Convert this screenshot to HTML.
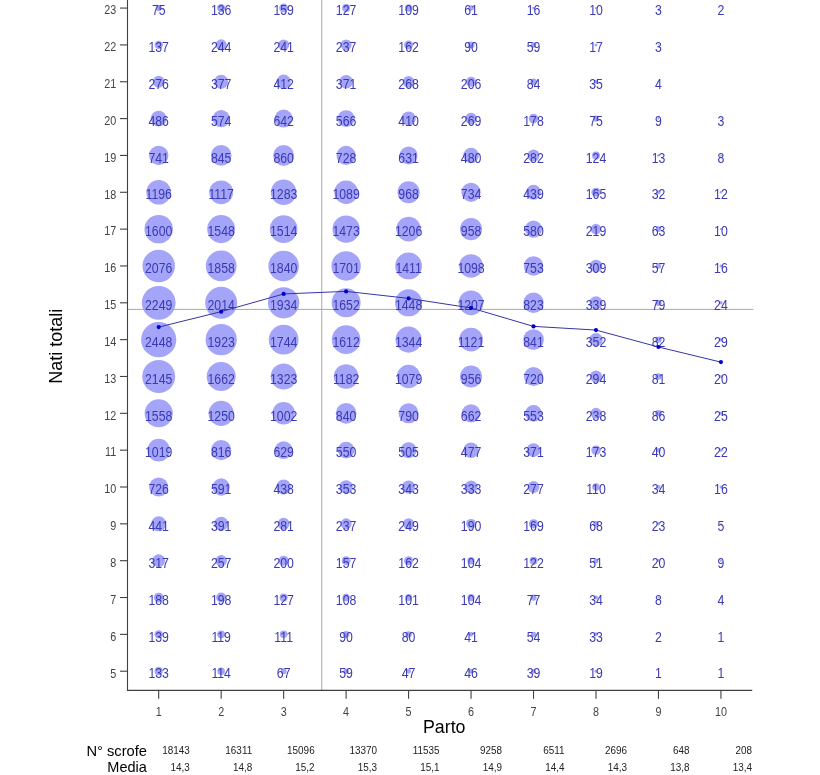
<!DOCTYPE html>
<html><head><meta charset="utf-8"><style>
html,body{margin:0;padding:0;background:#fff;}
body{width:820px;height:775px;overflow:hidden;position:relative;}
svg{position:absolute;left:0;top:0;will-change:transform;}
text{font-family:"Liberation Sans",sans-serif;}
</style></head><body>
<svg width="820" height="775" viewBox="0 0 820 775">

<g fill="#a4a4f9">
<circle cx="158.70" cy="8.08" r="3.08"/>
<circle cx="221.17" cy="8.08" r="4.15"/>
<circle cx="283.64" cy="8.08" r="4.49"/>
<circle cx="346.11" cy="8.08" r="4.01"/>
<circle cx="408.58" cy="8.08" r="3.72"/>
<circle cx="471.05" cy="8.08" r="2.78"/>
<circle cx="533.52" cy="8.08" r="1.42"/>
<circle cx="595.99" cy="8.08" r="1.13"/>
<circle cx="658.46" cy="8.08" r="0.62"/>
<circle cx="720.93" cy="8.08" r="0.50"/>
<circle cx="158.70" cy="44.92" r="4.17"/>
<circle cx="221.17" cy="44.92" r="5.56"/>
<circle cx="283.64" cy="44.92" r="5.53"/>
<circle cx="346.11" cy="44.92" r="5.48"/>
<circle cx="408.58" cy="44.92" r="4.53"/>
<circle cx="471.05" cy="44.92" r="3.38"/>
<circle cx="533.52" cy="44.92" r="2.73"/>
<circle cx="595.99" cy="44.92" r="1.47"/>
<circle cx="658.46" cy="44.92" r="0.62"/>
<circle cx="158.70" cy="81.76" r="5.91"/>
<circle cx="221.17" cy="81.76" r="6.91"/>
<circle cx="283.64" cy="81.76" r="7.23"/>
<circle cx="346.11" cy="81.76" r="6.86"/>
<circle cx="408.58" cy="81.76" r="5.83"/>
<circle cx="471.05" cy="81.76" r="5.11"/>
<circle cx="533.52" cy="81.76" r="3.26"/>
<circle cx="595.99" cy="81.76" r="2.11"/>
<circle cx="658.46" cy="81.76" r="0.71"/>
<circle cx="158.70" cy="118.60" r="7.85"/>
<circle cx="221.17" cy="118.60" r="8.53"/>
<circle cx="283.64" cy="118.60" r="9.02"/>
<circle cx="346.11" cy="118.60" r="8.47"/>
<circle cx="408.58" cy="118.60" r="7.21"/>
<circle cx="471.05" cy="118.60" r="5.84"/>
<circle cx="533.52" cy="118.60" r="4.75"/>
<circle cx="595.99" cy="118.60" r="3.08"/>
<circle cx="658.46" cy="118.60" r="1.07"/>
<circle cx="720.93" cy="118.60" r="0.62"/>
<circle cx="158.70" cy="155.44" r="9.69"/>
<circle cx="221.17" cy="155.44" r="10.35"/>
<circle cx="283.64" cy="155.44" r="10.44"/>
<circle cx="346.11" cy="155.44" r="9.61"/>
<circle cx="408.58" cy="155.44" r="8.94"/>
<circle cx="471.05" cy="155.44" r="7.80"/>
<circle cx="533.52" cy="155.44" r="5.98"/>
<circle cx="595.99" cy="155.44" r="3.96"/>
<circle cx="658.46" cy="155.44" r="1.28"/>
<circle cx="720.93" cy="155.44" r="1.01"/>
<circle cx="158.70" cy="192.28" r="12.31"/>
<circle cx="221.17" cy="192.28" r="11.90"/>
<circle cx="283.64" cy="192.28" r="12.75"/>
<circle cx="346.11" cy="192.28" r="11.75"/>
<circle cx="408.58" cy="192.28" r="11.08"/>
<circle cx="471.05" cy="192.28" r="9.64"/>
<circle cx="533.52" cy="192.28" r="7.46"/>
<circle cx="595.99" cy="192.28" r="4.57"/>
<circle cx="658.46" cy="192.28" r="2.01"/>
<circle cx="720.93" cy="192.28" r="1.23"/>
<circle cx="158.70" cy="229.12" r="14.24"/>
<circle cx="221.17" cy="229.12" r="14.01"/>
<circle cx="283.64" cy="229.12" r="13.85"/>
<circle cx="346.11" cy="229.12" r="13.66"/>
<circle cx="408.58" cy="229.12" r="12.36"/>
<circle cx="471.05" cy="229.12" r="11.02"/>
<circle cx="533.52" cy="229.12" r="8.57"/>
<circle cx="595.99" cy="229.12" r="5.27"/>
<circle cx="658.46" cy="229.12" r="2.83"/>
<circle cx="720.93" cy="229.12" r="1.13"/>
<circle cx="158.70" cy="265.96" r="16.22"/>
<circle cx="221.17" cy="265.96" r="15.35"/>
<circle cx="283.64" cy="265.96" r="15.27"/>
<circle cx="346.11" cy="265.96" r="14.68"/>
<circle cx="408.58" cy="265.96" r="13.37"/>
<circle cx="471.05" cy="265.96" r="11.80"/>
<circle cx="533.52" cy="265.96" r="9.77"/>
<circle cx="595.99" cy="265.96" r="6.26"/>
<circle cx="658.46" cy="265.96" r="2.69"/>
<circle cx="720.93" cy="265.96" r="1.42"/>
<circle cx="158.70" cy="302.80" r="16.88"/>
<circle cx="221.17" cy="302.80" r="15.98"/>
<circle cx="283.64" cy="302.80" r="15.66"/>
<circle cx="346.11" cy="302.80" r="14.47"/>
<circle cx="408.58" cy="302.80" r="13.55"/>
<circle cx="471.05" cy="302.80" r="12.37"/>
<circle cx="533.52" cy="302.80" r="10.21"/>
<circle cx="595.99" cy="302.80" r="6.55"/>
<circle cx="658.46" cy="302.80" r="3.16"/>
<circle cx="720.93" cy="302.80" r="1.74"/>
<circle cx="158.70" cy="339.64" r="17.61"/>
<circle cx="221.17" cy="339.64" r="15.61"/>
<circle cx="283.64" cy="339.64" r="14.87"/>
<circle cx="346.11" cy="339.64" r="14.29"/>
<circle cx="408.58" cy="339.64" r="13.05"/>
<circle cx="471.05" cy="339.64" r="11.92"/>
<circle cx="533.52" cy="339.64" r="10.32"/>
<circle cx="595.99" cy="339.64" r="6.68"/>
<circle cx="658.46" cy="339.64" r="3.22"/>
<circle cx="720.93" cy="339.64" r="1.92"/>
<circle cx="158.70" cy="376.48" r="16.49"/>
<circle cx="221.17" cy="376.48" r="14.51"/>
<circle cx="283.64" cy="376.48" r="12.95"/>
<circle cx="346.11" cy="376.48" r="12.24"/>
<circle cx="408.58" cy="376.48" r="11.69"/>
<circle cx="471.05" cy="376.48" r="11.01"/>
<circle cx="533.52" cy="376.48" r="9.55"/>
<circle cx="595.99" cy="376.48" r="6.10"/>
<circle cx="658.46" cy="376.48" r="3.20"/>
<circle cx="720.93" cy="376.48" r="1.59"/>
<circle cx="158.70" cy="413.32" r="14.05"/>
<circle cx="221.17" cy="413.32" r="12.59"/>
<circle cx="283.64" cy="413.32" r="11.27"/>
<circle cx="346.11" cy="413.32" r="10.32"/>
<circle cx="408.58" cy="413.32" r="10.01"/>
<circle cx="471.05" cy="413.32" r="9.16"/>
<circle cx="533.52" cy="413.32" r="8.37"/>
<circle cx="595.99" cy="413.32" r="5.49"/>
<circle cx="658.46" cy="413.32" r="3.30"/>
<circle cx="720.93" cy="413.32" r="1.78"/>
<circle cx="158.70" cy="450.16" r="11.36"/>
<circle cx="221.17" cy="450.16" r="10.17"/>
<circle cx="283.64" cy="450.16" r="8.93"/>
<circle cx="346.11" cy="450.16" r="8.35"/>
<circle cx="408.58" cy="450.16" r="8.00"/>
<circle cx="471.05" cy="450.16" r="7.78"/>
<circle cx="533.52" cy="450.16" r="6.86"/>
<circle cx="595.99" cy="450.16" r="4.68"/>
<circle cx="658.46" cy="450.16" r="2.25"/>
<circle cx="720.93" cy="450.16" r="1.67"/>
<circle cx="158.70" cy="487.00" r="9.59"/>
<circle cx="221.17" cy="487.00" r="8.65"/>
<circle cx="283.64" cy="487.00" r="7.45"/>
<circle cx="346.11" cy="487.00" r="6.69"/>
<circle cx="408.58" cy="487.00" r="6.59"/>
<circle cx="471.05" cy="487.00" r="6.50"/>
<circle cx="533.52" cy="487.00" r="5.93"/>
<circle cx="595.99" cy="487.00" r="3.73"/>
<circle cx="658.46" cy="487.00" r="2.08"/>
<circle cx="720.93" cy="487.00" r="1.42"/>
<circle cx="158.70" cy="523.84" r="7.48"/>
<circle cx="221.17" cy="523.84" r="7.04"/>
<circle cx="283.64" cy="523.84" r="5.97"/>
<circle cx="346.11" cy="523.84" r="5.48"/>
<circle cx="408.58" cy="523.84" r="5.62"/>
<circle cx="471.05" cy="523.84" r="4.91"/>
<circle cx="533.52" cy="523.84" r="4.63"/>
<circle cx="595.99" cy="523.84" r="2.94"/>
<circle cx="658.46" cy="523.84" r="1.71"/>
<circle cx="720.93" cy="523.84" r="0.80"/>
<circle cx="158.70" cy="560.68" r="6.34"/>
<circle cx="221.17" cy="560.68" r="5.71"/>
<circle cx="283.64" cy="560.68" r="5.03"/>
<circle cx="346.11" cy="560.68" r="4.46"/>
<circle cx="408.58" cy="560.68" r="4.53"/>
<circle cx="471.05" cy="560.68" r="3.63"/>
<circle cx="533.52" cy="560.68" r="3.93"/>
<circle cx="595.99" cy="560.68" r="2.54"/>
<circle cx="658.46" cy="560.68" r="1.59"/>
<circle cx="720.93" cy="560.68" r="1.07"/>
<circle cx="158.70" cy="597.52" r="4.88"/>
<circle cx="221.17" cy="597.52" r="5.01"/>
<circle cx="283.64" cy="597.52" r="4.01"/>
<circle cx="346.11" cy="597.52" r="3.70"/>
<circle cx="408.58" cy="597.52" r="3.58"/>
<circle cx="471.05" cy="597.52" r="3.63"/>
<circle cx="533.52" cy="597.52" r="3.12"/>
<circle cx="595.99" cy="597.52" r="2.08"/>
<circle cx="658.46" cy="597.52" r="1.01"/>
<circle cx="720.93" cy="597.52" r="0.71"/>
<circle cx="158.70" cy="634.36" r="4.20"/>
<circle cx="221.17" cy="634.36" r="3.88"/>
<circle cx="283.64" cy="634.36" r="3.75"/>
<circle cx="346.11" cy="634.36" r="3.38"/>
<circle cx="408.58" cy="634.36" r="3.18"/>
<circle cx="471.05" cy="634.36" r="2.28"/>
<circle cx="533.52" cy="634.36" r="2.62"/>
<circle cx="595.99" cy="634.36" r="2.05"/>
<circle cx="658.46" cy="634.36" r="0.50"/>
<circle cx="720.93" cy="634.36" r="0.36"/>
<circle cx="158.70" cy="671.20" r="4.11"/>
<circle cx="221.17" cy="671.20" r="3.80"/>
<circle cx="283.64" cy="671.20" r="2.91"/>
<circle cx="346.11" cy="671.20" r="2.73"/>
<circle cx="408.58" cy="671.20" r="2.44"/>
<circle cx="471.05" cy="671.20" r="2.41"/>
<circle cx="533.52" cy="671.20" r="2.22"/>
<circle cx="595.99" cy="671.20" r="1.55"/>
<circle cx="658.46" cy="671.20" r="0.36"/>
<circle cx="720.93" cy="671.20" r="0.36"/>
</g>
<line x1="321.75" y1="0" x2="321.75" y2="690" stroke="#a8a8a8" stroke-width="1"/>
<line x1="127.5" y1="309.4" x2="753.4" y2="309.4" stroke="#a8a8a8" stroke-width="1"/>
<path d="M127.5 0 V690.4 H752.2" fill="none" stroke="#404040" stroke-width="1.1"/>
<line x1="120" y1="671.20" x2="127.5" y2="671.20" stroke="#404040" stroke-width="1.1"/>
<line x1="120" y1="634.36" x2="127.5" y2="634.36" stroke="#404040" stroke-width="1.1"/>
<line x1="120" y1="597.52" x2="127.5" y2="597.52" stroke="#404040" stroke-width="1.1"/>
<line x1="120" y1="560.68" x2="127.5" y2="560.68" stroke="#404040" stroke-width="1.1"/>
<line x1="120" y1="523.84" x2="127.5" y2="523.84" stroke="#404040" stroke-width="1.1"/>
<line x1="120" y1="487.00" x2="127.5" y2="487.00" stroke="#404040" stroke-width="1.1"/>
<line x1="120" y1="450.16" x2="127.5" y2="450.16" stroke="#404040" stroke-width="1.1"/>
<line x1="120" y1="413.32" x2="127.5" y2="413.32" stroke="#404040" stroke-width="1.1"/>
<line x1="120" y1="376.48" x2="127.5" y2="376.48" stroke="#404040" stroke-width="1.1"/>
<line x1="120" y1="339.64" x2="127.5" y2="339.64" stroke="#404040" stroke-width="1.1"/>
<line x1="120" y1="302.80" x2="127.5" y2="302.80" stroke="#404040" stroke-width="1.1"/>
<line x1="120" y1="265.96" x2="127.5" y2="265.96" stroke="#404040" stroke-width="1.1"/>
<line x1="120" y1="229.12" x2="127.5" y2="229.12" stroke="#404040" stroke-width="1.1"/>
<line x1="120" y1="192.28" x2="127.5" y2="192.28" stroke="#404040" stroke-width="1.1"/>
<line x1="120" y1="155.44" x2="127.5" y2="155.44" stroke="#404040" stroke-width="1.1"/>
<line x1="120" y1="118.60" x2="127.5" y2="118.60" stroke="#404040" stroke-width="1.1"/>
<line x1="120" y1="81.76" x2="127.5" y2="81.76" stroke="#404040" stroke-width="1.1"/>
<line x1="120" y1="44.92" x2="127.5" y2="44.92" stroke="#404040" stroke-width="1.1"/>
<line x1="120" y1="8.08" x2="127.5" y2="8.08" stroke="#404040" stroke-width="1.1"/>
<line x1="158.70" y1="690.4" x2="158.70" y2="698.8" stroke="#404040" stroke-width="1.1"/>
<line x1="221.17" y1="690.4" x2="221.17" y2="698.8" stroke="#404040" stroke-width="1.1"/>
<line x1="283.64" y1="690.4" x2="283.64" y2="698.8" stroke="#404040" stroke-width="1.1"/>
<line x1="346.11" y1="690.4" x2="346.11" y2="698.8" stroke="#404040" stroke-width="1.1"/>
<line x1="408.58" y1="690.4" x2="408.58" y2="698.8" stroke="#404040" stroke-width="1.1"/>
<line x1="471.05" y1="690.4" x2="471.05" y2="698.8" stroke="#404040" stroke-width="1.1"/>
<line x1="533.52" y1="690.4" x2="533.52" y2="698.8" stroke="#404040" stroke-width="1.1"/>
<line x1="595.99" y1="690.4" x2="595.99" y2="698.8" stroke="#404040" stroke-width="1.1"/>
<line x1="658.46" y1="690.4" x2="658.46" y2="698.8" stroke="#404040" stroke-width="1.1"/>
<line x1="720.93" y1="690.4" x2="720.93" y2="698.8" stroke="#404040" stroke-width="1.1"/>
<g fill="#444" font-size="12" text-anchor="end">
<text transform="translate(116.3 677.50) scale(0.9 1)">5</text>
<text transform="translate(116.3 640.66) scale(0.9 1)">6</text>
<text transform="translate(116.3 603.82) scale(0.9 1)">7</text>
<text transform="translate(116.3 566.98) scale(0.9 1)">8</text>
<text transform="translate(116.3 530.14) scale(0.9 1)">9</text>
<text transform="translate(116.3 493.30) scale(0.9 1)">10</text>
<text transform="translate(116.3 456.46) scale(0.9 1)">11</text>
<text transform="translate(116.3 419.62) scale(0.9 1)">12</text>
<text transform="translate(116.3 382.78) scale(0.9 1)">13</text>
<text transform="translate(116.3 345.94) scale(0.9 1)">14</text>
<text transform="translate(116.3 309.10) scale(0.9 1)">15</text>
<text transform="translate(116.3 272.26) scale(0.9 1)">16</text>
<text transform="translate(116.3 235.42) scale(0.9 1)">17</text>
<text transform="translate(116.3 198.58) scale(0.9 1)">18</text>
<text transform="translate(116.3 161.74) scale(0.9 1)">19</text>
<text transform="translate(116.3 124.90) scale(0.9 1)">20</text>
<text transform="translate(116.3 88.06) scale(0.9 1)">21</text>
<text transform="translate(116.3 51.22) scale(0.9 1)">22</text>
<text transform="translate(116.3 14.38) scale(0.9 1)">23</text>
</g>
<g fill="#444" font-size="12" text-anchor="middle">
<text transform="translate(158.70 715.5) scale(0.9 1)">1</text>
<text transform="translate(221.17 715.5) scale(0.9 1)">2</text>
<text transform="translate(283.64 715.5) scale(0.9 1)">3</text>
<text transform="translate(346.11 715.5) scale(0.9 1)">4</text>
<text transform="translate(408.58 715.5) scale(0.9 1)">5</text>
<text transform="translate(471.05 715.5) scale(0.9 1)">6</text>
<text transform="translate(533.52 715.5) scale(0.9 1)">7</text>
<text transform="translate(595.99 715.5) scale(0.9 1)">8</text>
<text transform="translate(658.46 715.5) scale(0.9 1)">9</text>
<text transform="translate(720.93 715.5) scale(0.9 1)">10</text>
</g>
<g fill="#3a3ab2" font-size="13.8" text-anchor="middle">
<text transform="translate(158.70 15.28) scale(0.89 1)">75</text>
<text transform="translate(221.17 15.28) scale(0.89 1)">136</text>
<text transform="translate(283.64 15.28) scale(0.89 1)">159</text>
<text transform="translate(346.11 15.28) scale(0.89 1)">127</text>
<text transform="translate(408.58 15.28) scale(0.89 1)">109</text>
<text transform="translate(471.05 15.28) scale(0.89 1)">61</text>
<text transform="translate(533.52 15.28) scale(0.89 1)">16</text>
<text transform="translate(595.99 15.28) scale(0.89 1)">10</text>
<text transform="translate(658.46 15.28) scale(0.89 1)">3</text>
<text transform="translate(720.93 15.28) scale(0.89 1)">2</text>
<text transform="translate(158.70 52.12) scale(0.89 1)">137</text>
<text transform="translate(221.17 52.12) scale(0.89 1)">244</text>
<text transform="translate(283.64 52.12) scale(0.89 1)">241</text>
<text transform="translate(346.11 52.12) scale(0.89 1)">237</text>
<text transform="translate(408.58 52.12) scale(0.89 1)">162</text>
<text transform="translate(471.05 52.12) scale(0.89 1)">90</text>
<text transform="translate(533.52 52.12) scale(0.89 1)">59</text>
<text transform="translate(595.99 52.12) scale(0.89 1)">17</text>
<text transform="translate(658.46 52.12) scale(0.89 1)">3</text>
<text transform="translate(158.70 88.96) scale(0.89 1)">276</text>
<text transform="translate(221.17 88.96) scale(0.89 1)">377</text>
<text transform="translate(283.64 88.96) scale(0.89 1)">412</text>
<text transform="translate(346.11 88.96) scale(0.89 1)">371</text>
<text transform="translate(408.58 88.96) scale(0.89 1)">268</text>
<text transform="translate(471.05 88.96) scale(0.89 1)">206</text>
<text transform="translate(533.52 88.96) scale(0.89 1)">84</text>
<text transform="translate(595.99 88.96) scale(0.89 1)">35</text>
<text transform="translate(658.46 88.96) scale(0.89 1)">4</text>
<text transform="translate(158.70 125.80) scale(0.89 1)">486</text>
<text transform="translate(221.17 125.80) scale(0.89 1)">574</text>
<text transform="translate(283.64 125.80) scale(0.89 1)">642</text>
<text transform="translate(346.11 125.80) scale(0.89 1)">566</text>
<text transform="translate(408.58 125.80) scale(0.89 1)">410</text>
<text transform="translate(471.05 125.80) scale(0.89 1)">269</text>
<text transform="translate(533.52 125.80) scale(0.89 1)">178</text>
<text transform="translate(595.99 125.80) scale(0.89 1)">75</text>
<text transform="translate(658.46 125.80) scale(0.89 1)">9</text>
<text transform="translate(720.93 125.80) scale(0.89 1)">3</text>
<text transform="translate(158.70 162.64) scale(0.89 1)">741</text>
<text transform="translate(221.17 162.64) scale(0.89 1)">845</text>
<text transform="translate(283.64 162.64) scale(0.89 1)">860</text>
<text transform="translate(346.11 162.64) scale(0.89 1)">728</text>
<text transform="translate(408.58 162.64) scale(0.89 1)">631</text>
<text transform="translate(471.05 162.64) scale(0.89 1)">480</text>
<text transform="translate(533.52 162.64) scale(0.89 1)">282</text>
<text transform="translate(595.99 162.64) scale(0.89 1)">124</text>
<text transform="translate(658.46 162.64) scale(0.89 1)">13</text>
<text transform="translate(720.93 162.64) scale(0.89 1)">8</text>
<text transform="translate(158.70 199.48) scale(0.89 1)">1196</text>
<text transform="translate(221.17 199.48) scale(0.89 1)">1117</text>
<text transform="translate(283.64 199.48) scale(0.89 1)">1283</text>
<text transform="translate(346.11 199.48) scale(0.89 1)">1089</text>
<text transform="translate(408.58 199.48) scale(0.89 1)">968</text>
<text transform="translate(471.05 199.48) scale(0.89 1)">734</text>
<text transform="translate(533.52 199.48) scale(0.89 1)">439</text>
<text transform="translate(595.99 199.48) scale(0.89 1)">165</text>
<text transform="translate(658.46 199.48) scale(0.89 1)">32</text>
<text transform="translate(720.93 199.48) scale(0.89 1)">12</text>
<text transform="translate(158.70 236.32) scale(0.89 1)">1600</text>
<text transform="translate(221.17 236.32) scale(0.89 1)">1548</text>
<text transform="translate(283.64 236.32) scale(0.89 1)">1514</text>
<text transform="translate(346.11 236.32) scale(0.89 1)">1473</text>
<text transform="translate(408.58 236.32) scale(0.89 1)">1206</text>
<text transform="translate(471.05 236.32) scale(0.89 1)">958</text>
<text transform="translate(533.52 236.32) scale(0.89 1)">580</text>
<text transform="translate(595.99 236.32) scale(0.89 1)">219</text>
<text transform="translate(658.46 236.32) scale(0.89 1)">63</text>
<text transform="translate(720.93 236.32) scale(0.89 1)">10</text>
<text transform="translate(158.70 273.16) scale(0.89 1)">2076</text>
<text transform="translate(221.17 273.16) scale(0.89 1)">1858</text>
<text transform="translate(283.64 273.16) scale(0.89 1)">1840</text>
<text transform="translate(346.11 273.16) scale(0.89 1)">1701</text>
<text transform="translate(408.58 273.16) scale(0.89 1)">1411</text>
<text transform="translate(471.05 273.16) scale(0.89 1)">1098</text>
<text transform="translate(533.52 273.16) scale(0.89 1)">753</text>
<text transform="translate(595.99 273.16) scale(0.89 1)">309</text>
<text transform="translate(658.46 273.16) scale(0.89 1)">57</text>
<text transform="translate(720.93 273.16) scale(0.89 1)">16</text>
<text transform="translate(158.70 310.00) scale(0.89 1)">2249</text>
<text transform="translate(221.17 310.00) scale(0.89 1)">2014</text>
<text transform="translate(283.64 310.00) scale(0.89 1)">1934</text>
<text transform="translate(346.11 310.00) scale(0.89 1)">1652</text>
<text transform="translate(408.58 310.00) scale(0.89 1)">1448</text>
<text transform="translate(471.05 310.00) scale(0.89 1)">1207</text>
<text transform="translate(533.52 310.00) scale(0.89 1)">823</text>
<text transform="translate(595.99 310.00) scale(0.89 1)">339</text>
<text transform="translate(658.46 310.00) scale(0.89 1)">79</text>
<text transform="translate(720.93 310.00) scale(0.89 1)">24</text>
<text transform="translate(158.70 346.84) scale(0.89 1)">2448</text>
<text transform="translate(221.17 346.84) scale(0.89 1)">1923</text>
<text transform="translate(283.64 346.84) scale(0.89 1)">1744</text>
<text transform="translate(346.11 346.84) scale(0.89 1)">1612</text>
<text transform="translate(408.58 346.84) scale(0.89 1)">1344</text>
<text transform="translate(471.05 346.84) scale(0.89 1)">1121</text>
<text transform="translate(533.52 346.84) scale(0.89 1)">841</text>
<text transform="translate(595.99 346.84) scale(0.89 1)">352</text>
<text transform="translate(658.46 346.84) scale(0.89 1)">82</text>
<text transform="translate(720.93 346.84) scale(0.89 1)">29</text>
<text transform="translate(158.70 383.68) scale(0.89 1)">2145</text>
<text transform="translate(221.17 383.68) scale(0.89 1)">1662</text>
<text transform="translate(283.64 383.68) scale(0.89 1)">1323</text>
<text transform="translate(346.11 383.68) scale(0.89 1)">1182</text>
<text transform="translate(408.58 383.68) scale(0.89 1)">1079</text>
<text transform="translate(471.05 383.68) scale(0.89 1)">956</text>
<text transform="translate(533.52 383.68) scale(0.89 1)">720</text>
<text transform="translate(595.99 383.68) scale(0.89 1)">294</text>
<text transform="translate(658.46 383.68) scale(0.89 1)">81</text>
<text transform="translate(720.93 383.68) scale(0.89 1)">20</text>
<text transform="translate(158.70 420.52) scale(0.89 1)">1558</text>
<text transform="translate(221.17 420.52) scale(0.89 1)">1250</text>
<text transform="translate(283.64 420.52) scale(0.89 1)">1002</text>
<text transform="translate(346.11 420.52) scale(0.89 1)">840</text>
<text transform="translate(408.58 420.52) scale(0.89 1)">790</text>
<text transform="translate(471.05 420.52) scale(0.89 1)">662</text>
<text transform="translate(533.52 420.52) scale(0.89 1)">553</text>
<text transform="translate(595.99 420.52) scale(0.89 1)">238</text>
<text transform="translate(658.46 420.52) scale(0.89 1)">86</text>
<text transform="translate(720.93 420.52) scale(0.89 1)">25</text>
<text transform="translate(158.70 457.36) scale(0.89 1)">1019</text>
<text transform="translate(221.17 457.36) scale(0.89 1)">816</text>
<text transform="translate(283.64 457.36) scale(0.89 1)">629</text>
<text transform="translate(346.11 457.36) scale(0.89 1)">550</text>
<text transform="translate(408.58 457.36) scale(0.89 1)">505</text>
<text transform="translate(471.05 457.36) scale(0.89 1)">477</text>
<text transform="translate(533.52 457.36) scale(0.89 1)">371</text>
<text transform="translate(595.99 457.36) scale(0.89 1)">173</text>
<text transform="translate(658.46 457.36) scale(0.89 1)">40</text>
<text transform="translate(720.93 457.36) scale(0.89 1)">22</text>
<text transform="translate(158.70 494.20) scale(0.89 1)">726</text>
<text transform="translate(221.17 494.20) scale(0.89 1)">591</text>
<text transform="translate(283.64 494.20) scale(0.89 1)">438</text>
<text transform="translate(346.11 494.20) scale(0.89 1)">353</text>
<text transform="translate(408.58 494.20) scale(0.89 1)">343</text>
<text transform="translate(471.05 494.20) scale(0.89 1)">333</text>
<text transform="translate(533.52 494.20) scale(0.89 1)">277</text>
<text transform="translate(595.99 494.20) scale(0.89 1)">110</text>
<text transform="translate(658.46 494.20) scale(0.89 1)">34</text>
<text transform="translate(720.93 494.20) scale(0.89 1)">16</text>
<text transform="translate(158.70 531.04) scale(0.89 1)">441</text>
<text transform="translate(221.17 531.04) scale(0.89 1)">391</text>
<text transform="translate(283.64 531.04) scale(0.89 1)">281</text>
<text transform="translate(346.11 531.04) scale(0.89 1)">237</text>
<text transform="translate(408.58 531.04) scale(0.89 1)">249</text>
<text transform="translate(471.05 531.04) scale(0.89 1)">190</text>
<text transform="translate(533.52 531.04) scale(0.89 1)">169</text>
<text transform="translate(595.99 531.04) scale(0.89 1)">68</text>
<text transform="translate(658.46 531.04) scale(0.89 1)">23</text>
<text transform="translate(720.93 531.04) scale(0.89 1)">5</text>
<text transform="translate(158.70 567.88) scale(0.89 1)">317</text>
<text transform="translate(221.17 567.88) scale(0.89 1)">257</text>
<text transform="translate(283.64 567.88) scale(0.89 1)">200</text>
<text transform="translate(346.11 567.88) scale(0.89 1)">157</text>
<text transform="translate(408.58 567.88) scale(0.89 1)">162</text>
<text transform="translate(471.05 567.88) scale(0.89 1)">104</text>
<text transform="translate(533.52 567.88) scale(0.89 1)">122</text>
<text transform="translate(595.99 567.88) scale(0.89 1)">51</text>
<text transform="translate(658.46 567.88) scale(0.89 1)">20</text>
<text transform="translate(720.93 567.88) scale(0.89 1)">9</text>
<text transform="translate(158.70 604.72) scale(0.89 1)">188</text>
<text transform="translate(221.17 604.72) scale(0.89 1)">198</text>
<text transform="translate(283.64 604.72) scale(0.89 1)">127</text>
<text transform="translate(346.11 604.72) scale(0.89 1)">108</text>
<text transform="translate(408.58 604.72) scale(0.89 1)">101</text>
<text transform="translate(471.05 604.72) scale(0.89 1)">104</text>
<text transform="translate(533.52 604.72) scale(0.89 1)">77</text>
<text transform="translate(595.99 604.72) scale(0.89 1)">34</text>
<text transform="translate(658.46 604.72) scale(0.89 1)">8</text>
<text transform="translate(720.93 604.72) scale(0.89 1)">4</text>
<text transform="translate(158.70 641.56) scale(0.89 1)">139</text>
<text transform="translate(221.17 641.56) scale(0.89 1)">119</text>
<text transform="translate(283.64 641.56) scale(0.89 1)">111</text>
<text transform="translate(346.11 641.56) scale(0.89 1)">90</text>
<text transform="translate(408.58 641.56) scale(0.89 1)">80</text>
<text transform="translate(471.05 641.56) scale(0.89 1)">41</text>
<text transform="translate(533.52 641.56) scale(0.89 1)">54</text>
<text transform="translate(595.99 641.56) scale(0.89 1)">33</text>
<text transform="translate(658.46 641.56) scale(0.89 1)">2</text>
<text transform="translate(720.93 641.56) scale(0.89 1)">1</text>
<text transform="translate(158.70 678.40) scale(0.89 1)">133</text>
<text transform="translate(221.17 678.40) scale(0.89 1)">114</text>
<text transform="translate(283.64 678.40) scale(0.89 1)">67</text>
<text transform="translate(346.11 678.40) scale(0.89 1)">59</text>
<text transform="translate(408.58 678.40) scale(0.89 1)">47</text>
<text transform="translate(471.05 678.40) scale(0.89 1)">46</text>
<text transform="translate(533.52 678.40) scale(0.89 1)">39</text>
<text transform="translate(595.99 678.40) scale(0.89 1)">19</text>
<text transform="translate(658.46 678.40) scale(0.89 1)">1</text>
<text transform="translate(720.93 678.40) scale(0.89 1)">1</text>
</g>
<polyline points="158.70,327.11 221.17,311.64 283.64,293.96 346.11,291.38 408.58,298.38 471.05,307.96 533.52,326.38 595.99,330.06 658.46,347.01 720.93,362.11" fill="none" stroke="#3434a8" stroke-width="1"/>
<g fill="#0000cc">
<circle cx="158.70" cy="327.11" r="2.1"/>
<circle cx="221.17" cy="311.64" r="2.1"/>
<circle cx="283.64" cy="293.96" r="2.1"/>
<circle cx="346.11" cy="291.38" r="2.1"/>
<circle cx="408.58" cy="298.38" r="2.1"/>
<circle cx="471.05" cy="307.96" r="2.1"/>
<circle cx="533.52" cy="326.38" r="2.1"/>
<circle cx="595.99" cy="330.06" r="2.1"/>
<circle cx="658.46" cy="347.01" r="2.1"/>
<circle cx="720.93" cy="362.11" r="2.1"/>
</g>
<text x="62" y="346.3" font-size="18" fill="#000" text-anchor="middle" transform="rotate(-90 62 346.3)">Nati totali</text>
<text x="423" y="732.7" font-size="17.8" fill="#000">Parto</text>
<text x="147" y="755.7" font-size="14.7" fill="#000" text-anchor="end">N° scrofe</text>
<text x="146.8" y="772" font-size="14.5" fill="#000" text-anchor="end">Media</text>
<g fill="#222" font-size="10.9" text-anchor="end">
<text transform="translate(189.70 754.4) scale(0.91 1)">18143</text>
<text transform="translate(189.70 771) scale(0.91 1)">14,3</text>
<text transform="translate(252.17 754.4) scale(0.91 1)">16311</text>
<text transform="translate(252.17 771) scale(0.91 1)">14,8</text>
<text transform="translate(314.64 754.4) scale(0.91 1)">15096</text>
<text transform="translate(314.64 771) scale(0.91 1)">15,2</text>
<text transform="translate(377.11 754.4) scale(0.91 1)">13370</text>
<text transform="translate(377.11 771) scale(0.91 1)">15,3</text>
<text transform="translate(439.58 754.4) scale(0.91 1)">11535</text>
<text transform="translate(439.58 771) scale(0.91 1)">15,1</text>
<text transform="translate(502.05 754.4) scale(0.91 1)">9258</text>
<text transform="translate(502.05 771) scale(0.91 1)">14,9</text>
<text transform="translate(564.52 754.4) scale(0.91 1)">6511</text>
<text transform="translate(564.52 771) scale(0.91 1)">14,4</text>
<text transform="translate(626.99 754.4) scale(0.91 1)">2696</text>
<text transform="translate(626.99 771) scale(0.91 1)">14,3</text>
<text transform="translate(689.46 754.4) scale(0.91 1)">648</text>
<text transform="translate(689.46 771) scale(0.91 1)">13,8</text>
<text transform="translate(751.93 754.4) scale(0.91 1)">208</text>
<text transform="translate(751.93 771) scale(0.91 1)">13,4</text>
</g>
</svg></body></html>
